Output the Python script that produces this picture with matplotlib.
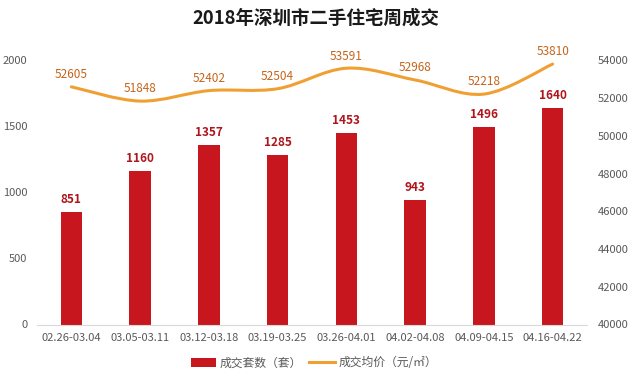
import numpy as np
import matplotlib
matplotlib.use("Agg")
import matplotlib.pyplot as plt
from matplotlib.path import Path
from matplotlib.patches import PathPatch
from matplotlib.lines import Line2D
from matplotlib.patches import Patch

plt.rcParams['font.family'] = ['Noto Sans CJK SC', 'DejaVu Sans']

# 数据
weeks = ['02.26-03.04', '03.05-03.11', '03.12-03.18', '03.19-03.25',
         '03.26-04.01', '04.02-04.08', '04.09-04.15', '04.16-04.22']
volume = [851, 1160, 1357, 1285, 1453, 943, 1496, 1640]      # 成交套数
price = [52605, 51848, 52402, 52504, 53591, 52968, 52218, 53810]  # 成交均价

bar_color = '#C8161E'
line_color = '#F0A033'
price_text = '#C5641A'
tick_color = '#595959'

fig = plt.figure(figsize=(6.3, 3.8), dpi=100)
ax = fig.add_axes([37/630, 1-324.5/380, 550/630, 264/380])
ax2 = ax.twinx()

x = np.arange(len(weeks))
ax.bar(x, volume, width=0.31, color=bar_color, zorder=2)
for xi, v in zip(x, volume):
    ax.text(xi, v + 45, str(v), ha='center', va='bottom', fontsize=8.5,
            fontweight='bold', color='#B0141C')

ax.set_xlim(-0.5, len(weeks) - 0.5)
ax.set_ylim(0, 2000)
ax.set_yticks([0, 500, 1000, 1500, 2000])
ax.set_xticks(x)
ax.set_xticklabels(weeks)

# 平滑曲线（三次贝塞尔）
pts = np.column_stack([x, price]).astype(float)
n = len(pts)
verts = [pts[0]]
codes = [Path.MOVETO]
for i in range(n - 1):
    p0 = pts[i - 1] if i > 0 else pts[i]
    p1 = pts[i]
    p2 = pts[i + 1]
    p3 = pts[i + 2] if i + 2 < n else pts[i + 1]
    c1 = p1 + (p2 - p0) / 6
    c2 = p2 - (p3 - p1) / 6
    verts += [c1, c2, p2]
    codes += [Path.CURVE4] * 3
ax2.add_patch(PathPatch(Path(verts, codes), fill=False, edgecolor=line_color,
                        lw=2.2, capstyle='round', zorder=3))
for xi, p in zip(x, price):
    ax2.text(xi, p + 300, str(p), ha='center', va='bottom', fontsize=8.5,
             fontweight='medium', color=price_text)
ax2.set_ylim(40000, 54000)
ax2.set_yticks(range(40000, 54001, 2000))

for a in (ax, ax2):
    for s in a.spines.values():
        s.set_visible(False)
    a.tick_params(length=0, labelsize=8, colors=tick_color)
ax.spines['bottom'].set_visible(True)
ax.spines['bottom'].set_color('#D9D9D9')
ax.tick_params(axis='y', pad=7)
ax2.tick_params(axis='y', pad=8)
ax.tick_params(axis='x', pad=6)

fig.text(316/630, 1-18/380, '2018年深圳市二手住宅周成交', ha='center', va='center',
         fontsize=13.3, fontweight='bold', color='#1a1a1a')

handles = [Patch(facecolor=bar_color, label='成交套数（套）'),
           Line2D([0], [0], color=line_color, lw=2.2, label='成交均价（元/㎡）')]
fig.legend(handles=handles, loc='center', bbox_to_anchor=(314/630, 1-363/380),
           ncol=2, frameon=False, fontsize=8.5, labelcolor=tick_color,
           handlelength=2.2, handleheight=0.7, columnspacing=0.6, handletextpad=0.3)

fig.savefig('out.png', dpi=100)
